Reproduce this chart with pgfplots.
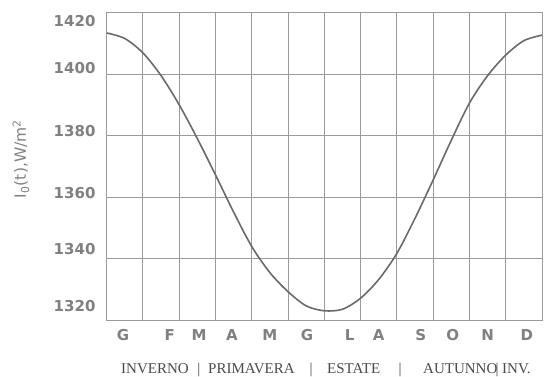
\documentclass[border=0pt]{standalone}
\usepackage{pgfplots}
\pgfplotsset{compat=1.18}
\usepackage{fontspec}
\setmainfont{Liberation Serif}
\newfontfamily\labfont{DejaVu Sans}
\definecolor{txtgray}{HTML}{808080}
\definecolor{gridgray}{HTML}{9A9A9A}
\definecolor{curvegray}{HTML}{6A6A6A}
\definecolor{seasongray}{HTML}{4A4A4A}
\begin{document}
\begin{tikzpicture}[x=1pt,y=1pt]
\path[use as bounding box] (0,0) rectangle (544,376);
\begin{axis}[
  at={(106.7pt,56pt)}, anchor=south west,
  scale only axis, width=435.3pt, height=307.3pt,
  xmin=0, xmax=12, ymin=1320, ymax=1420,
  xtick={0.45,1.74,2.55,3.45,4.5,5.52,6.7,7.5,8.66,9.54,10.5,11.58},
  xticklabels={G,F,M,A,M,G,L,A,S,O,N,D},
  ytick={1324.6,1343.1,1361.3,1381.5,1402,1417.3},
  yticklabels={1320,1340,1360,1380,1400,1420},
  minor xtick={0,1,...,12},
  minor ytick={1320,1340,...,1420},
  grid=minor,
  minor grid style={gridgray, line width=1pt},
  major tick length=0pt, minor tick length=0pt,
  axis line style={gridgray, line width=1pt},
  /pgf/number format/assume math mode=true,
  tick label style={font=\labfont\bfseries\fontsize{15}{18}\selectfont, text=txtgray},
  yticklabel style={xshift=-7.7pt},
  xticklabel style={yshift=-6pt},
  ylabel={I\textsubscript{0}(t),W/m\textsuperscript{2}},
  every axis y label/.style={at={(axis description cs:-0.197,0.524)}, rotate=90, anchor=center,
    font=\labfont\fontsize{15.5}{18}\selectfont, text=txtgray},
]
\addplot[curvegray, line width=1.6pt, smooth] coordinates {
  (0,1413.4) (0.5,1411.6) (1,1406.9) (1.5,1399.5) (2,1390.0) (2.5,1379.0)
  (3,1367.2) (3.5,1355.1) (4,1343.9) (4.5,1335.4) (5,1329.2) (5.5,1324.6)
  (6,1323.0) (6.5,1323.5) (7,1327.1) (7.5,1333.2) (8,1341.7) (8.5,1353.1)
  (9,1365.6) (9.5,1378.5) (10,1390.6) (10.5,1399.5) (11,1406.2) (11.5,1410.9)
  (12,1412.7)};
\end{axis}
\begin{scope}[every node/.style={inner sep=0pt, text=seasongray, font=\fontsize{15}{18}\selectfont}]
\node[anchor=base west] at (121,2.5) {INVERNO};
\node[anchor=base] at (199,2.5) {|};
\node[anchor=base west] at (208,2.5) {PRIMAVERA};
\node[anchor=base] at (311,2.5) {|};
\node[anchor=base west] at (327,2.5) {ESTATE};
\node[anchor=base] at (400,2.5) {|};
\node[anchor=base west] at (423,2.5) {AUTUNNO};
\node[anchor=base] at (497,2.5) {|};
\node[anchor=base west] at (502,2.5) {INV.};
\end{scope}
\end{tikzpicture}
\end{document}
